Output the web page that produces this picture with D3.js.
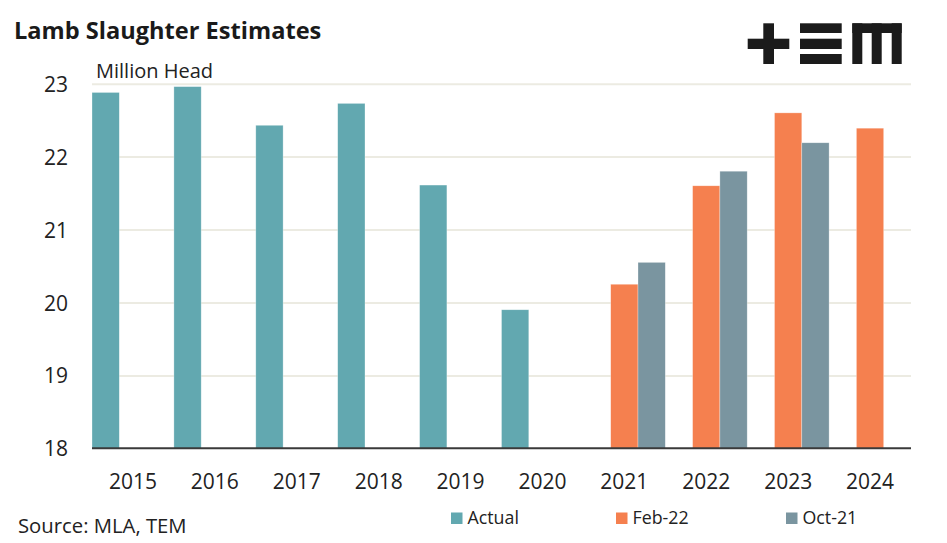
<!DOCTYPE html>
<html>
<head>
<meta charset="utf-8">
<script src="https://cdn.jsdelivr.net/npm/d3@7"></script>
<style>
  body { margin: 0; background: #fff; }
  text { font-family: "Open Sans", Lato, sans-serif; fill: #222; }
</style>
</head>
<body>
<div class="chart"></div>
<script>
let width = 947;
let height = 543;

// data
let years = ['2015', '2016', '2017', '2018', '2019', '2020', '2021', '2022', '2023', '2024'];
let seriesNames = ['Actual', 'Feb-22', 'Oct-21'];
let actual = [22.88, 22.96, 22.43, 22.73, 21.61, 19.90, null, null, null, null];
let feb22 = [null, null, null, null, null, null, 20.25, 21.60, 22.60, 22.39];
let oct21 = [null, null, null, null, null, null, 20.55, 21.80, 22.19, null];
let yTicks = [18, 19, 20, 21, 22, 23];

let colors = ['#62a8b0', '#f5804f', '#7a95a0'];
let seriesValues = [actual, feb22, oct21];

let plotLeft = 92, plotRight = 911, plotTop = 83.7, plotBottom = 448.3;

let svg = d3.select('.chart')
            .append('svg')
            .attr('width', width)
            .attr('height', height);

let xScale = d3.scaleBand()
               .domain(years)
               .range([plotLeft, plotRight])
               .padding(0);
let xInner = d3.scaleBand()
               .domain(seriesNames)
               .range([0, xScale.bandwidth()])
               .padding(0);
let yScale = d3.scaleLinear()
               .domain([18, 23])
               .range([plotBottom, plotTop]);

// gridlines
let grid = svg.append('g')
   .attr('transform', 'translate(' + plotLeft + ',0)')
   .call(d3.axisLeft(yScale).tickValues(yTicks.slice(1)).tickSize(-(plotRight - plotLeft)).tickFormat(''));
grid.select('.domain').remove();
grid.selectAll('line').attr('stroke', '#ecebe2').attr('stroke-width', 2);

// y axis labels
let yAxis = svg.append('g')
   .attr('transform', 'translate(' + (plotLeft - 24) + ',0)')
   .call(d3.axisLeft(yScale).tickValues(yTicks).tickSize(0).tickPadding(0).tickFormat(d3.format('d')));
yAxis.select('.domain').remove();
yAxis.selectAll('text').style('font-size', '21px').attr('dy', '0.36em').style('fill', '#222');

// bars
let rows = [];
years.forEach((y, i) => {
  seriesNames.forEach((s, j) => {
    let v = seriesValues[j][i];
    if (v != null) rows.push({year: y, series: s, value: v, color: colors[j]});
  });
});

svg.append('g')
   .selectAll('rect')
   .data(rows)
   .enter()
   .append('rect')
   .attr('x', d => xScale(d.year) + xInner(d.series))
   .attr('y', d => yScale(d.value))
   .attr('width', xInner.bandwidth())
   .attr('height', d => yScale(18) - yScale(d.value))
   .attr('fill', d => d.color)
   .attr('stroke', '#ffffff')
   .attr('stroke-opacity', 0.5)
   .attr('stroke-width', 0.6);

// x axis
let xAxis = svg.append('g')
   .attr('transform', 'translate(0,' + plotBottom + ')')
   .call(d3.axisBottom(xScale).tickSize(0).tickPadding(0));
xAxis.select('.domain').remove();
xAxis.selectAll('text').style('font-size', '21px').attr('y', 41).attr('dy', 0).style('fill', '#222');
svg.append('line')
   .attr('x1', plotLeft).attr('x2', plotRight)
   .attr('y1', plotBottom).attr('y2', plotBottom)
   .attr('stroke', '#3a3a3a').attr('stroke-width', 2);

// titles
svg.append('text')
   .attr('x', 14).attr('y', 38.5)
   .style('font-size', '23.6px').style('font-weight', 'bold')
   .style('fill', '#1a1a1a')
   .text('Lamb Slaughter Estimates');
svg.append('text')
   .attr('x', 96).attr('y', 77.5)
   .style('font-size', '20px')
   .text('Million Head');
svg.append('text')
   .attr('x', 18).attr('y', 533)
   .style('font-size', '20.3px')
   .text('Source: MLA, TEM');

// legend
let legendX = [451, 616, 786];
let legend = svg.append('g').selectAll('g')
   .data(seriesNames)
   .enter()
   .append('g')
   .attr('transform', (d, i) => 'translate(' + legendX[i] + ',512.5)');
legend.append('rect')
   .attr('width', 11.5).attr('height', 11.5)
   .attr('fill', (d, i) => colors[i]);
legend.append('text')
   .attr('x', 16.5).attr('y', 11.5)
   .style('font-size', '17.8px')
   .text(d => d);

// logo
let logo = svg.append('g').attr('fill', '#1b1b1b');
let logoRects = [
  [763.3, 23.3, 10.7, 40.7], [747.7, 38.7, 41.6, 10.3],
  [800, 23.3, 41.7, 9.7], [800, 38.7, 41.7, 10.3], [800, 54, 41.7, 10],
  [852.3, 23.3, 49.4, 9.7], [852.3, 23.3, 10, 40.7], [871.7, 23.3, 10, 40.7], [891.7, 23.3, 10, 40.7]
];
logo.selectAll('rect')
    .data(logoRects)
    .enter()
    .append('rect')
    .attr('x', d => d[0]).attr('y', d => d[1])
    .attr('width', d => d[2]).attr('height', d => d[3]);
</script>
</body>
</html>
